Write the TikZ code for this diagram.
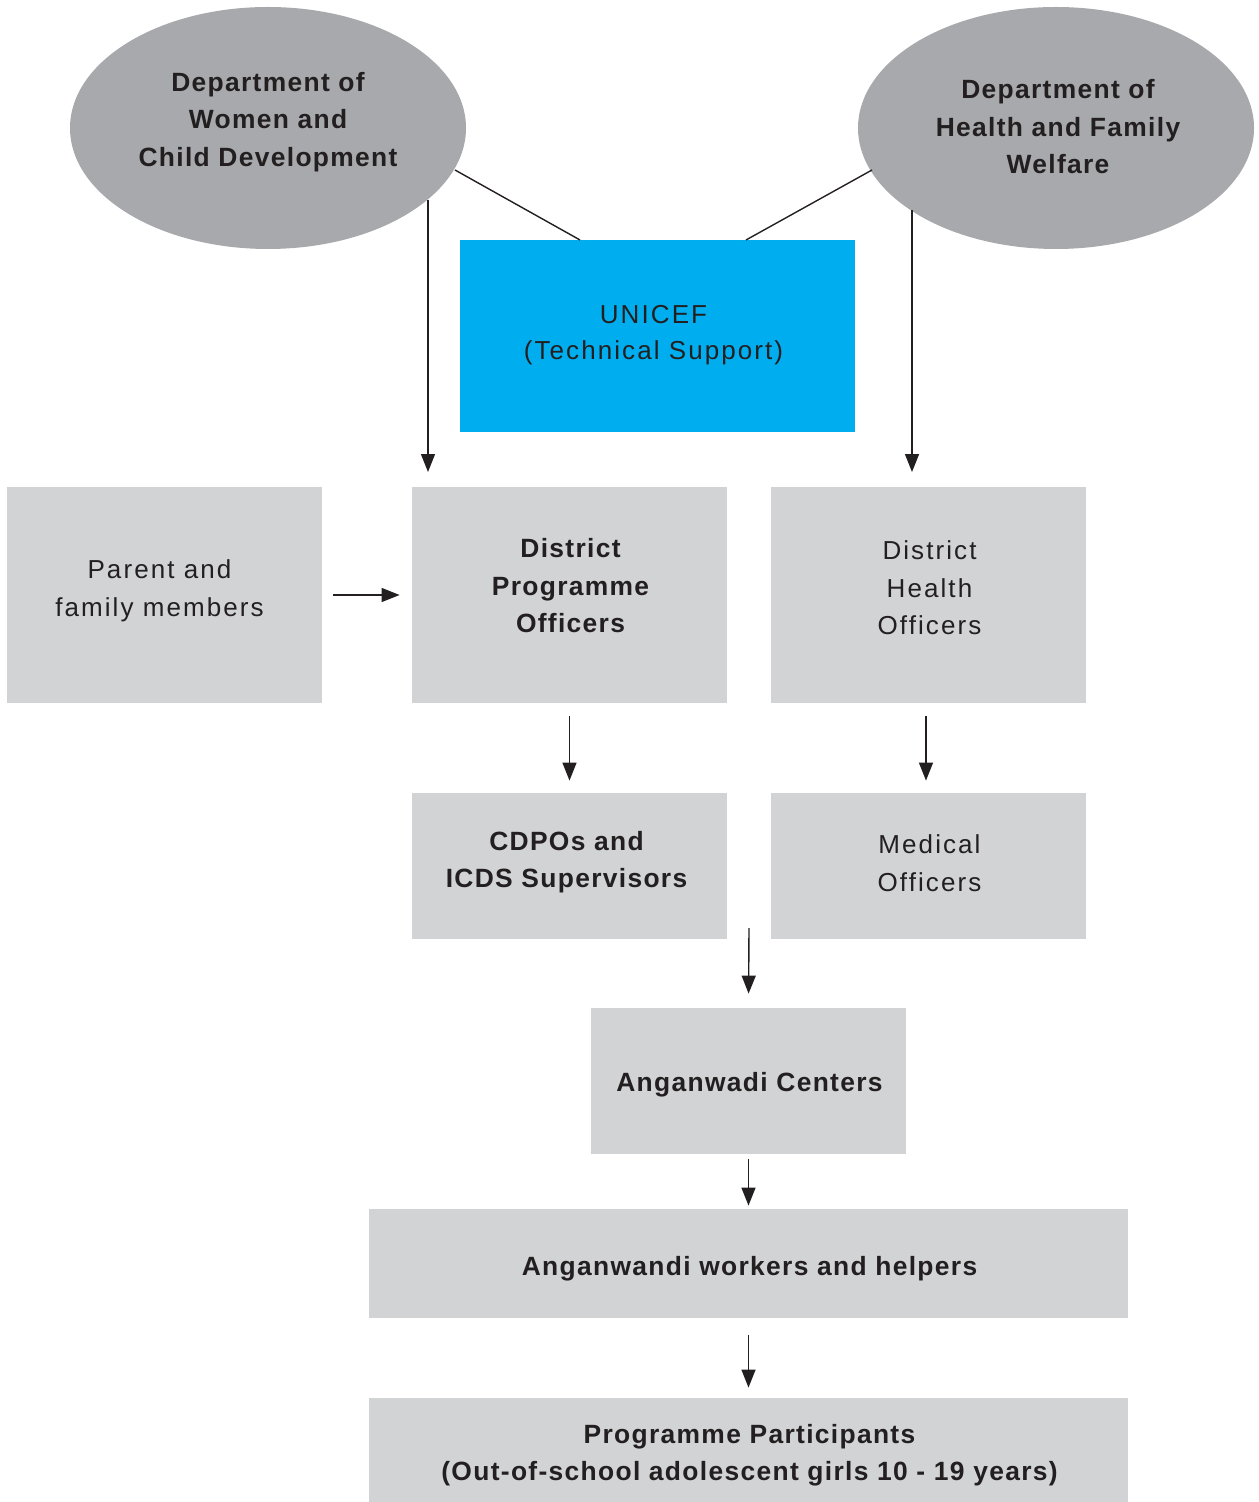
\documentclass[tikz,border=0pt]{standalone}
\usepackage{fontspec}
\setmainfont{Liberation Sans}[LetterSpace=8,BoldFeatures={LetterSpace=5}]
\usetikzlibrary{shapes.geometric,arrows.meta,calc}
\definecolor{ellgray}{HTML}{A7A9AC}
\definecolor{boxgray}{HTML}{D1D3D4}
\definecolor{unblue}{HTML}{00AEEF}
\definecolor{txt}{HTML}{231F20}
\begin{document}
\begin{tikzpicture}[x=0.5pt,y=-0.5pt,
  ell/.style={ellipse,fill=ellgray,minimum width=198pt,minimum height=121pt,inner sep=0pt},
  rt/.style={align=center,text=txt,inner sep=0pt,font=\fontsize{13}{18.75}\selectfont},
  bt/.style={rt,font=\fontsize{13.2}{18.75}\selectfont\bfseries},
  gbox/.style={rectangle,fill=boxgray,inner sep=0pt},
  conn/.style={draw=txt,line width=0.7pt},
  arr/.style={conn,-{Triangle[width=7pt,length=9pt]}}
]
\useasboundingbox (0,0) rectangle (1258,1502);
% ellipses
\node[ell] (dwcd) at (268,128) {};
\node[bt] at ($(dwcd)+(0,-6)$) {Department of\\Women and\\Child Development};
\node[ell] (dhfw) at (1056,128) {};
\node[bt] at ($(dhfw)+(2,-1)$) {Department of\\Health and Family\\Welfare};
% UNICEF
\node[gbox,fill=unblue,minimum width=197.5pt,minimum height=96pt] (unicef) at (657.5,336) {};
\node[rt,font=\fontsize{13}{18}\selectfont] at ($(unicef)+(-4,-1)$) {UNICEF\\(Technical Support)};
% row boxes
\node[gbox,minimum width=157.5pt,minimum height=108pt] (parent) at (164.5,595) {};
\node[rt] at ($(parent)+(-5,-4)$) {Parent and\\family members};
\node[gbox,minimum width=157.5pt,minimum height=108pt] (dpo) at (569.5,595) {};
\node[bt] at ($(dpo)+(1,-9)$) {District\\Programme\\Officers};
\node[gbox,minimum width=157.5pt,minimum height=108pt] (dho) at (928.5,595) {};
\node[rt] at ($(dho)+(1,-7)$) {District\\Health\\Officers};
\node[gbox,minimum width=157.5pt,minimum height=73pt] (cdpo) at (569.5,866) {};
\node[bt] at ($(cdpo)+(-3,-4)$) {CDPOs and\\ICDS Supervisors};
\node[gbox,minimum width=157.5pt,minimum height=73pt] (med) at (928.5,866) {};
\node[rt] at ($(med)+(1,-3)$) {Medical\\Officers};
\node[gbox,minimum width=157.5pt,minimum height=73pt] (ang) at (748.5,1081) {};
\node[bt] at ($(ang)+(1,4)$) {Anganwadi Centers};
\node[gbox,minimum width=379.5pt,minimum height=54.5pt] (work) at (748.5,1263.5) {};
\node[bt] at ($(work)+(1,5)$) {Anganwandi workers and helpers};
\node[gbox,minimum width=379.5pt,minimum height=52pt] (part) at (748.5,1450) {};
\node[bt] at ($(part)+(1,5)$) {Programme Participants\\(Out-of-school adolescent girls 10 - 19 years)};
% coordinates
\coordinate (l1) at (455,170);
\coordinate (l2) at (580,240);
\coordinate (r1) at (872,170);
\coordinate (r2) at (746,240);
\coordinate (la) at (428,200);
\coordinate (lb) at (428,472);
\coordinate (ra) at (912,210);
\coordinate (rb) at (912,472);
\coordinate (ca) at (749,928);
% connectors
\draw[conn] (l1) -- (l2);
\draw[conn] (r1) -- (r2);
\draw[arr] (la) -- (lb);
\draw[arr] (ra) -- (rb);
\draw[arr,shorten <=5.5pt,shorten >=6pt] (parent.east) -- (dpo.west);
\draw[arr,shorten <=6.5pt,shorten >=6pt] (dpo.south) -- (cdpo.north);
\draw[arr,shorten <=6.5pt,shorten >=6pt] ($(dho.south)+(-2.5,0)$) -- ($(med.north)+(-2.5,0)$);
\draw[arr,shorten >=7pt] (ca) -- (ang.north);
\draw[arr,shorten <=2.5pt,shorten >=1.5pt] (ang.south) -- (work.north);
\draw[arr,shorten <=8.5pt,shorten >=5pt] (work.south) -- (part.north);
\end{tikzpicture}
\end{document}
